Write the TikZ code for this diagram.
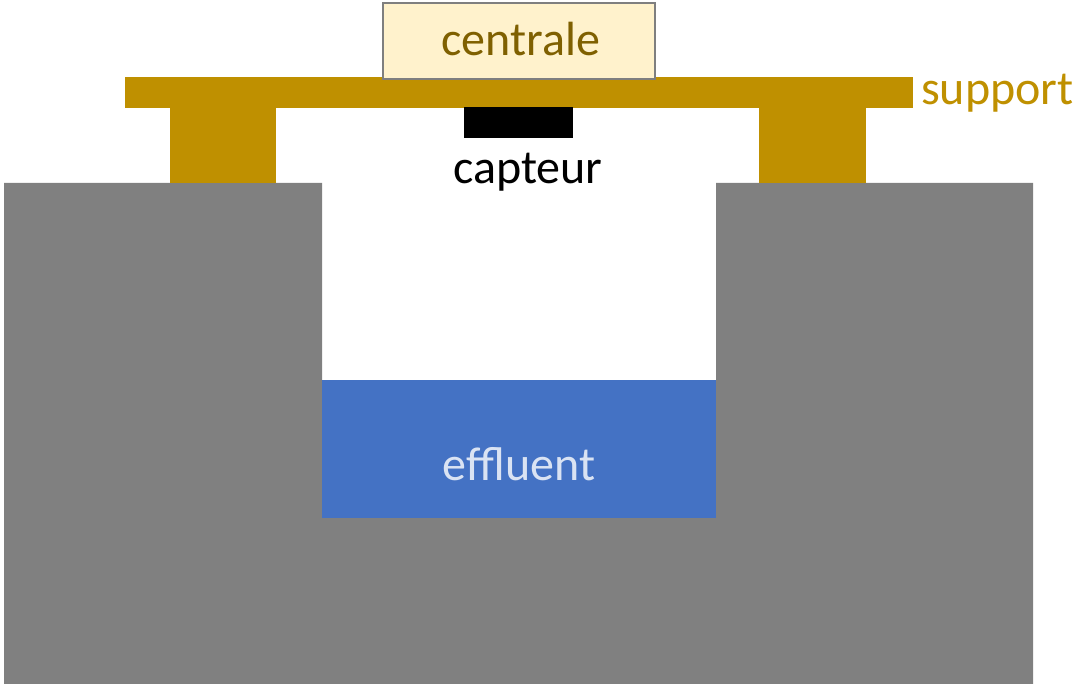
\documentclass[tikz,border=0pt]{standalone}
\usepackage{fontspec}
\setmainfont{Carlito}
\definecolor{ground}{HTML}{808080}
\definecolor{liquid}{HTML}{4472C4}
\definecolor{liquidtext}{HTML}{DAE3F3}
\definecolor{gold}{HTML}{BF9000}
\definecolor{darkgold}{HTML}{7F6000}
\definecolor{cream}{HTML}{FFF2CC}
\definecolor{frame}{HTML}{7F7F7F}
\tikzset{
  label text/.style={font=\fontsize{48}{58}\selectfont, inner sep=0pt, anchor=base},
}
\begin{document}
\begin{tikzpicture}[x=1pt, y=-1pt]
  \useasboundingbox (0,0) rectangle (1089,684);
  % ground with the pit cut out
  \fill[ground] (4,183) -- (322,183) -- (322,517) -- (716,517) -- (716,183)
    -- (1033,183) -- (1033,684) -- (4,684) -- cycle;
  % effluent in the pit
  \fill[liquid] (322,380) rectangle (716,517.5);
  \node[label text, text=liquidtext] (effluent) at (519,480) {effluent};
  % support beam and legs
  \fill[gold] (125,77) rectangle (913,108);
  \fill[gold] (170,107) rectangle (276,183.5);
  \fill[gold] (759,107) rectangle (866,183.5);
  \node[label text, text=gold, anchor=base west] (support) at (921,105) {support};
  % sensor under the beam
  \fill[black] (464,107) rectangle (573,138);
  \node[label text, text=black] (capteur) at (528,184) {capteur};
  % central unit on top
  \draw[fill=cream, draw=frame, line width=2pt] (383,3) rectangle (655,79);
  \node[label text, text=darkgold] (centrale) at (521,56) {centrale};
\end{tikzpicture}
\end{document}
